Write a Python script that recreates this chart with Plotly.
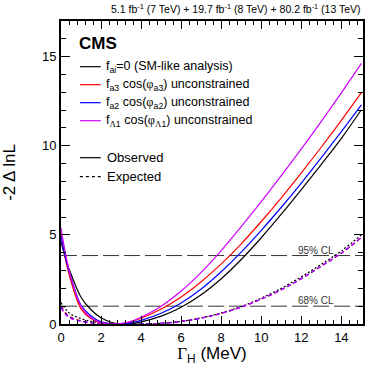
import plotly.graph_objects as go

# ---- data ----
gamma = [0, 0.25, 0.5, 1, 1.5, 2, 2.5, 3, 3.5, 4, 5, 6, 7, 8, 9, 10, 11, 12, 13, 14, 15]

obs_sm   = [4.6, 3.6, 2.8, 1.5, 0.8, 0.35, 0.1, 0.0, 0.03, 0.12, 0.44, 0.94, 1.64, 2.54, 3.62, 4.84, 6.16, 7.54, 8.96, 10.42, 12.02]
obs_a3   = [5.0, 3.5, 2.4, 0.85, 0.3, 0.07, 0.0, 0.02, 0.12, 0.32, 0.84, 1.52, 2.37, 3.37, 4.5, 5.75, 7.08, 8.48, 9.93, 11.43, 12.98]
obs_a2   = [4.9, 3.6, 2.6, 1.05, 0.45, 0.12, 0.01, 0.0, 0.06, 0.2, 0.6, 1.18, 1.96, 2.93, 4.03, 5.25, 6.55, 7.91, 9.33, 10.79, 12.29]
obs_L1   = [5.4, 3.8, 2.6, 1.0, 0.35, 0.08, 0.0, 0.03, 0.15, 0.38, 1.0, 1.85, 2.9, 4.12, 5.47, 6.87, 8.32, 9.82, 11.37, 12.97, 14.62]

exp_sm   = [1.2, 0.8, 0.55, 0.3, 0.15, 0.07, 0.03, 0.01, 0.0, 0.0, 0.04, 0.15, 0.35, 0.62, 0.98, 1.45, 2.0, 2.65, 3.35, 4.1, 5.0]
exp_a3   = [1.0, 0.6, 0.38, 0.18, 0.08, 0.03, 0.01, 0.0, 0.0, 0.0, 0.04, 0.14, 0.33, 0.6, 0.95, 1.4, 1.92, 2.55, 3.25, 3.98, 4.85]
exp_a2   = [0.95, 0.55, 0.34, 0.16, 0.07, 0.03, 0.01, 0.0, 0.0, 0.0, 0.04, 0.14, 0.33, 0.6, 0.95, 1.4, 1.92, 2.55, 3.25, 3.98, 4.85]
exp_L1   = [0.9, 0.5, 0.3, 0.15, 0.07, 0.03, 0.01, 0.0, 0.0, 0.0, 0.04, 0.14, 0.33, 0.6, 0.95, 1.4, 1.92, 2.55, 3.25, 3.98, 4.85]

cl_levels = [1.0, 3.84]
cl_labels = ["68% CL", "95% CL"]

SERIF = "Liberation Serif, Times New Roman, serif"
def sym(s):
    return '<span style="font-family:%s">%s</span>' % (SERIF, s)

series_names = [
    "f<sub>ai</sub>=0 (SM-like analysis)",
    "f<sub>a3</sub> cos(" + sym("φ") + "<sub>a3</sub>) unconstrained",
    "f<sub>a2</sub> cos(" + sym("φ") + "<sub>a2</sub>) unconstrained",
    "f<sub>" + sym("Λ") + "1</sub> cos(" + sym("φ") + "<sub>" + sym("Λ") + "1</sub>) unconstrained",
]
colors = ["#000000", "#ff0000", "#0000ff", "#d000ff"]
observed = [obs_sm, obs_a3, obs_a2, obs_L1]
expected = [exp_sm, exp_a3, exp_a2, exp_L1]

FONT = "Liberation Sans, Arial, Helvetica, sans-serif"
XMAX = 15.08
YMAX = 17.0

fig = go.Figure()

# CL lines
for lvl in cl_levels:
    fig.add_trace(go.Scatter(x=[0, XMAX], y=[lvl, lvl], mode="lines",
                             line=dict(color="#333333", width=1, dash="16px,5px"),
                             showlegend=False, hoverinfo="skip"))

# expected curves
for i, (vals, col) in enumerate(zip(expected, colors)):
    fig.add_trace(go.Scatter(x=gamma, y=vals, mode="lines", line_shape="spline",
                             line=dict(color=col, width=1.2,
                                       dash="2px,2px" if i == 0 else "4px,3px"),
                             showlegend=False, hoverinfo="skip"))

# observed curves
for vals, col in zip(observed, colors):
    fig.add_trace(go.Scatter(x=gamma, y=vals, mode="lines", line_shape="spline",
                             line=dict(color=col, width=1.2),
                             showlegend=False, hoverinfo="skip"))

W, H = 368, 366
L, R, T, B = 61, 3, 21, 42
pw, ph = W - L - R, H - T - B

def px2paper(px, py):
    return (px - L) / pw, 1 - (py - T) / ph

annotations = []
shapes = []

# CL labels
for lvl, lab in zip(cl_levels, cl_labels):
    annotations.append(dict(x=12.75, y=lvl, xref="x", yref="y", text=lab, showarrow=False,
                            xanchor="center", yanchor="bottom", yshift=-2,
                            font=dict(family=FONT, size=10, color="#333333")))

# CMS label
cx, cy = px2paper(77, 43)
annotations.append(dict(x=cx, y=cy, xref="paper", yref="paper", text="<b>CMS</b>",
                        showarrow=False, xanchor="left", yanchor="middle",
                        font=dict(family=FONT, size=17, color="black")))

legend_rows = [66.7, 84.7, 102.7, 120.7]
for name, col, ry in zip(series_names, colors, legend_rows):
    x0, y0 = px2paper(80, ry)
    x1, _ = px2paper(101, ry)
    shapes.append(dict(type="line", xref="paper", yref="paper", x0=x0, x1=x1, y0=y0, y1=y0,
                       line=dict(color=col, width=1.2)))
    tx, _ = px2paper(104, ry)
    annotations.append(dict(x=tx, y=y0, xref="paper", yref="paper", text=name, showarrow=False,
                            xanchor="left", yanchor="middle",
                            font=dict(family=FONT, size=12.5, color="black")))

for lab, dash, ry in [("Observed", "solid", 157.7), ("Expected", "3px,3px", 176.7)]:
    x0, y0 = px2paper(80, ry)
    x1, _ = px2paper(101, ry)
    shapes.append(dict(type="line", xref="paper", yref="paper", x0=x0, x1=x1, y0=y0, y1=y0,
                       line=dict(color="black", width=1.2, dash=dash)))
    tx, _ = px2paper(105, ry)
    annotations.append(dict(x=tx, y=y0, xref="paper", yref="paper", text=lab, showarrow=False,
                            xanchor="left", yanchor="middle",
                            font=dict(family=FONT, size=13, color="black")))

# luminosity header
annotations.append(dict(x=1.0, y=1, xref="paper", yref="paper", yshift=4,
                        text="5.1 fb<sup>-1</sup> (7 TeV) + 19.7 fb<sup>-1</sup> (8 TeV) + 80.2 fb<sup>-1</sup> (13 TeV)",
                        showarrow=False, xanchor="right", yanchor="bottom",
                        font=dict(family=FONT, size=10.5, color="black")))

axis_common = dict(showgrid=False, zeroline=False, ticks="inside", mirror="allticks",
                   showline=True, linecolor="black", linewidth=2, tickcolor="black",
                   tickfont=dict(family=FONT, size=13, color="black"))

fig.update_layout(
    width=W, height=H,
    margin=dict(l=L, r=R, t=T, b=B),
    paper_bgcolor="white", plot_bgcolor="white",
    showlegend=False,
    annotations=annotations, shapes=shapes,
    xaxis=dict(range=[0, XMAX], dtick=2, tick0=0, ticklen=8, tickwidth=1,
               minor=dict(dtick=0.4, tick0=0, ticks="inside", ticklen=4, tickcolor="black"),
               title=dict(text=sym("Γ") + "<sub>H</sub> (MeV)",
                          font=dict(family=FONT, size=17, color="black"), standoff=4),
               **axis_common),
    yaxis=dict(range=[0, YMAX], dtick=5, tick0=0, ticklen=9, tickwidth=1,
               minor=dict(dtick=1, tick0=0, ticks="inside", ticklen=5, tickcolor="black"),
               title=dict(text="-2 Δ lnL", font=dict(family=FONT, size=17, color="black"), standoff=24),
               **axis_common),
)

fig.write_html("out.html", config={"displayModeBar": False},
               post_script="document.body.style.margin='0';document.body.style.overflow='hidden';")
